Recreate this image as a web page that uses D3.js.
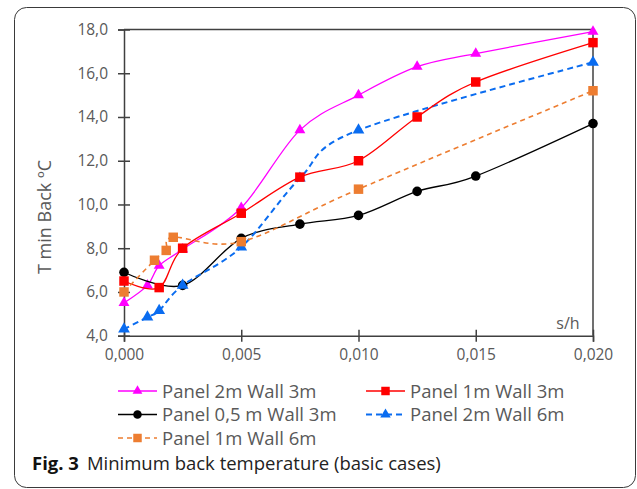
<!DOCTYPE html>
<html>
<head>
<meta charset="utf-8">
<script src="https://cdnjs.cloudflare.com/ajax/libs/d3/7.8.5/d3.min.js"></script>
<style>
	body { margin: 0; background: #fff; }
	text { font-family: "Open Sans", sans-serif; }
</style>
</head>
<body>
<script>

	// data
	let xTicks = [0, 0.005, 0.010, 0.015, 0.020];
	let yTicks = [4, 6, 8, 10, 12, 14, 16, 18];

	let panel2Wall3X = [0, 0.001, 0.0015, 0.0025, 0.005, 0.0075, 0.010, 0.0125, 0.015, 0.020];
	let panel2Wall3Y = [5.5, 6.3, 7.2, 7.95, 9.85, 13.4, 15.0, 16.3, 16.9, 17.9];

	let panel1Wall3X = [0, 0.0015, 0.0025, 0.005, 0.0075, 0.010, 0.0125, 0.015, 0.020];
	let panel1Wall3Y = [6.5, 6.2, 8.0, 9.6, 11.25, 12.0, 14.0, 15.6, 17.4];

	let panel05Wall3X = [0, 0.0025, 0.005, 0.0075, 0.010, 0.0125, 0.015, 0.020];
	let panel05Wall3Y = [6.9, 6.3, 8.45, 9.1, 9.5, 10.6, 11.3, 13.7];

	let panel2Wall6X = [0, 0.001, 0.0015, 0.0025, 0.005, 0.0075, 0.010, 0.020];
	let panel2Wall6Y = [4.3, 4.85, 5.15, 6.3, 8.05, 11.2, 13.4, 16.5];

	let panel1Wall6X = [0, 0.0013, 0.0018, 0.0021, 0.005, 0.010, 0.020];
	let panel1Wall6Y = [6.0, 7.45, 7.9, 8.5, 8.3, 10.7, 15.2];

	let seriesNames = ['Panel 2m Wall 3m', 'Panel 1m Wall 3m', 'Panel 0,5 m Wall 3m', 'Panel 2m Wall 6m', 'Panel 1m Wall 6m'];

	let series = [
		{name: seriesNames[0], xs: panel2Wall3X, ys: panel2Wall3Y, color: '#ff00ff', sym: d3.symbolTriangle, size: 52, dash: null, w: 1.3},
		{name: seriesNames[1], xs: panel1Wall3X, ys: panel1Wall3Y, color: '#ff0000', sym: d3.symbolSquare, size: 90, dash: null, w: 1.3},
		{name: seriesNames[2], xs: panel05Wall3X, ys: panel05Wall3Y, color: '#000000', sym: d3.symbolCircle, size: 72, dash: null, w: 1.3},
		{name: seriesNames[3], xs: panel2Wall6X, ys: panel2Wall6Y, color: '#0a6cf0', sym: d3.symbolTriangle, size: 60, dash: '6,4', w: 2},
		{name: seriesNames[4], xs: panel1Wall6X, ys: panel1Wall6Y, color: '#ed7d31', sym: d3.symbolSquare, size: 90, dash: '5,4', w: 1.6}
	];
	// drawing order (later on top)
	let drawOrder = [0, 2, 3, 1, 4];

	let svg = d3.select('body').append('svg')
		.attr('width', 637)
		.attr('height', 489);

	// outer rounded frame
	svg.append('rect')
		.attr('x', 14.5).attr('y', 7.5)
		.attr('width', 621).attr('height', 480)
		.attr('rx', 12)
		.attr('fill', 'none')
		.attr('stroke', '#3a3a3a')
		.attr('stroke-width', 1);

	let x = d3.scaleLinear().domain([0, 0.02]).range([124, 593]);
	let y = d3.scaleLinear().domain([4, 18]).range([335.7, 29.5]);

	let axisColor = '#404040';
	let textColor = '#595959';

	// plot box top and right
	svg.append('line').attr('x1', x(0)).attr('x2', x(0.02)).attr('y1', y(18)).attr('y2', y(18))
		.attr('stroke', axisColor).attr('stroke-width', 1.5);
	svg.append('line').attr('x1', x(0.02)).attr('x2', x(0.02)).attr('y1', y(18)).attr('y2', y(4))
		.attr('stroke', axisColor).attr('stroke-width', 1.5);

	// y axis
	let yAxis = svg.append('g')
		.attr('transform', 'translate(' + x(0) + ',0)')
		.call(d3.axisLeft(y).tickValues(yTicks).tickSize(6).tickPadding(10)
			.tickFormat(d => d3.format('.1f')(d).replace('.', ',')));
	yAxis.select('.domain').attr('stroke', axisColor).attr('stroke-width', 1.5);
	yAxis.selectAll('.tick line').attr('x2', 6).attr('x1', -6).attr('stroke', axisColor).attr('stroke-width', 1.5);
	yAxis.selectAll('.tick text').attr('fill', textColor).attr('font-size', 15.5)
		.attr('font-family', '"Open Sans", sans-serif').attr('x', -16);

	// x axis
	let xAxis = svg.append('g')
		.attr('transform', 'translate(0,' + y(4) + ')')
		.call(d3.axisBottom(x).tickValues(xTicks).tickSize(6).tickPadding(12)
			.tickFormat(d => d3.format('.3f')(d).replace('.', ',')));
	xAxis.select('.domain').attr('stroke', axisColor).attr('stroke-width', 1.5);
	xAxis.selectAll('.tick line').attr('y1', -6).attr('y2', 6).attr('stroke', axisColor).attr('stroke-width', 1.5);
	xAxis.selectAll('.tick text').attr('fill', textColor).attr('font-size', 15.5)
		.attr('font-family', '"Open Sans", sans-serif').attr('y', 13);

	// axis titles
	svg.append('text')
		.attr('transform', 'translate(51,217) rotate(-90)')
		.attr('text-anchor', 'middle')
		.attr('fill', textColor)
		.attr('font-size', 18)
		.text('T min Back ºC');

	svg.append('text')
		.attr('x', 568).attr('y', 329)
		.attr('text-anchor', 'middle')
		.attr('fill', textColor)
		.attr('font-size', 16)
		.text('s/h');

	// lines + markers
	let line = d3.line()
		.x(d => x(d[0]))
		.y(d => y(d[1]))
		.curve(d3.curveCardinal.tension(0));

	drawOrder.forEach(function(i) {
		let s = series[i];
		let pts = s.xs.map((v, k) => [v, s.ys[k]]);
		let g = svg.append('g');
		g.append('path')
			.datum(pts)
			.attr('d', line)
			.attr('fill', 'none')
			.attr('stroke', s.color)
			.attr('stroke-width', s.w)
			.attr('stroke-dasharray', s.dash);
		g.selectAll('path.mk').data(pts).enter().append('path')
			.attr('class', 'mk')
			.attr('transform', d => 'translate(' + x(d[0]) + ',' + y(d[1]) + ')')
			.attr('d', d3.symbol().type(s.sym).size(s.size))
			.attr('fill', s.color);
	});

	// legend
	let legendPos = [[118, 391], [366, 391], [118, 414.5], [366, 414.5], [118, 438]];
	series.forEach(function(s, i) {
		let p = legendPos[i];
		let g = svg.append('g').attr('transform', 'translate(' + p[0] + ',' + p[1] + ')');
		g.append('line').attr('x1', 0).attr('x2', 39).attr('y1', 0).attr('y2', 0)
			.attr('stroke', s.color).attr('stroke-width', s.w)
			.attr('stroke-dasharray', s.dash);
		g.append('path')
			.attr('transform', 'translate(19.5,0)')
			.attr('d', d3.symbol().type(s.sym).size(s.size * 0.8))
			.attr('fill', s.color);
		g.append('text')
			.attr('x', 44).attr('y', 6.5)
			.attr('fill', textColor)
			.attr('font-size', 18.5)
			.text(s.name);
	});

	// caption
	let cap = svg.append('text')
		.attr('x', 32).attr('y', 470)
		.attr('font-size', 18.5)
		.attr('fill', '#222');
	cap.append('tspan').attr('font-weight', 'bold').attr('fill', '#111').text('Fig. 3');
	cap.append('tspan').attr('dx', 8).text('Minimum back temperature (basic cases)');

</script>
</body>
</html>
